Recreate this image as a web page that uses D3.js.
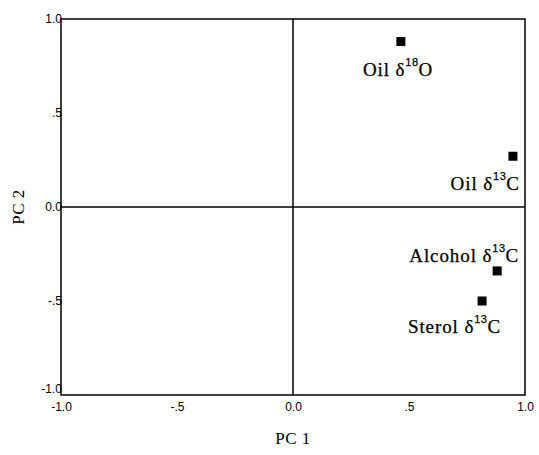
<!DOCTYPE html>
<html>
<head>
<meta charset="utf-8">
<script src="https://cdn.jsdelivr.net/npm/d3@7"></script>
<style>
  body { margin: 0; background: #fff; }
  svg { display: block; }
</style>
</head>
<body>
<div class="canvas"></div>
<script>
const labels = ['Oil δ', 'Oil δ', 'Alcohol δ', 'Sterol δ']
const isotopes = ['18', '13', '13', '13']
const elements = ['O', 'C', 'C', 'C']
const pc1 = [0.465, 0.948, 0.88, 0.815]
const pc2 = [0.88, 0.27, -0.34, -0.50]
const tickValues = [-1, -0.5, 0, 0.5, 1]
const tickLabels = ['-1.0', '-.5', '0.0', '.5', '1.0']

const width = 539, height = 455
const margin = { top: 19, right: 14, bottom: 60, left: 61 }

const svg = d3.select('.canvas')
    .append('svg')
    .attr('width', width)
    .attr('height', height)

const x = d3.scaleLinear().domain([-1, 1]).range([margin.left, width - margin.right])
const y = d3.scaleLinear().domain([-1, 1]).range([height - margin.bottom, margin.top])

// frame
svg.append('rect')
    .attr('x', x(-1)).attr('y', y(1))
    .attr('width', x(1) - x(-1)).attr('height', y(-1) - y(1))
    .attr('fill', 'none').attr('stroke', '#000').attr('stroke-width', 1.5)

// zero lines
svg.append('line')
    .attr('x1', x(0)).attr('x2', x(0)).attr('y1', y(1)).attr('y2', y(-1))
    .attr('stroke', '#000').attr('stroke-width', 1.5)
svg.append('line')
    .attr('x1', x(-1)).attr('x2', x(1)).attr('y1', y(0)).attr('y2', y(0))
    .attr('stroke', '#000').attr('stroke-width', 1.5)

const fmt = d => tickLabels[tickValues.indexOf(d)]

const xAxis = d3.axisBottom(x).tickValues(tickValues).tickFormat(fmt).tickSize(0).tickPadding(7)
const yAxis = d3.axisLeft(y).tickValues(tickValues).tickFormat(fmt).tickSize(0).tickPadding(-1)

const xg = svg.append('g').attr('transform', `translate(0, ${y(-1)})`).call(xAxis)
const yg = svg.append('g').attr('transform', `translate(${x(-1)}, 0)`).call(yAxis)

;[xg, yg].forEach(g => {
    g.select('.domain').remove()
    g.selectAll('text')
        .attr('font-family', 'Liberation Sans, Arial, sans-serif')
        .attr('font-size', 12)
        .attr('fill', '#000')
})
// bottom y label sits a bit higher, as in the original
yg.selectAll('.tick').filter(d => d === -1).select('text').attr('dy', '-0.2em')

const serif = 'Liberation Serif, Times New Roman, serif'

// axis titles
svg.append('text')
    .attr('x', x(0)).attr('y', 444)
    .attr('text-anchor', 'middle')
    .attr('font-family', serif)
    .attr('font-size', 17)
    .attr('letter-spacing', 0.5)
    .text('PC 1')

svg.append('text')
    .attr('transform', `translate(24, ${y(0)}) rotate(-90)`)
    .attr('text-anchor', 'middle')
    .attr('font-family', serif)
    .attr('font-size', 17)
    .attr('letter-spacing', 0.5)
    .text('PC 2')

// points
const pts = pc1.map((v, i) => ({ x: v, y: pc2[i], label: labels[i], iso: isotopes[i], el: elements[i] }))

svg.selectAll('rect.pt')
    .data(pts)
    .enter()
    .append('rect')
        .attr('class', 'pt')
        .attr('x', d => x(d.x) - 4.5)
        .attr('y', d => y(d.y) - 4.5)
        .attr('width', 9).attr('height', 9)
        .attr('fill', '#000')

// label offsets relative to the point
const labelPos = [
    { dx: -38, dy: 34, anchor: 'start' },
    { dx: 7, dy: 34, anchor: 'end' },
    { dx: 22, dy: -9, anchor: 'end' },
    { dx: 19, dy: 32, anchor: 'end' }
]

const lab = svg.selectAll('text.lab')
    .data(pts)
    .enter()
    .append('text')
        .attr('class', 'lab')
        .attr('x', (d, i) => x(d.x) + labelPos[i].dx)
        .attr('y', (d, i) => y(d.y) + labelPos[i].dy)
        .attr('text-anchor', (d, i) => labelPos[i].anchor)
        .attr('font-family', serif)
        .attr('font-size', 19)
        .attr('letter-spacing', 0.9)
        .attr('fill', '#000')
        .attr('stroke', '#000')
        .attr('stroke-width', 0.25)

lab.append('tspan').text(d => d.label)
lab.append('tspan').attr('dy', -10).attr('font-size', 11).attr('letter-spacing', 0.5)
    .attr('font-family', 'Liberation Sans, Arial, sans-serif').text(d => d.iso)
lab.append('tspan').attr('dy', 10).text(d => d.el)
</script>
</body>
</html>
